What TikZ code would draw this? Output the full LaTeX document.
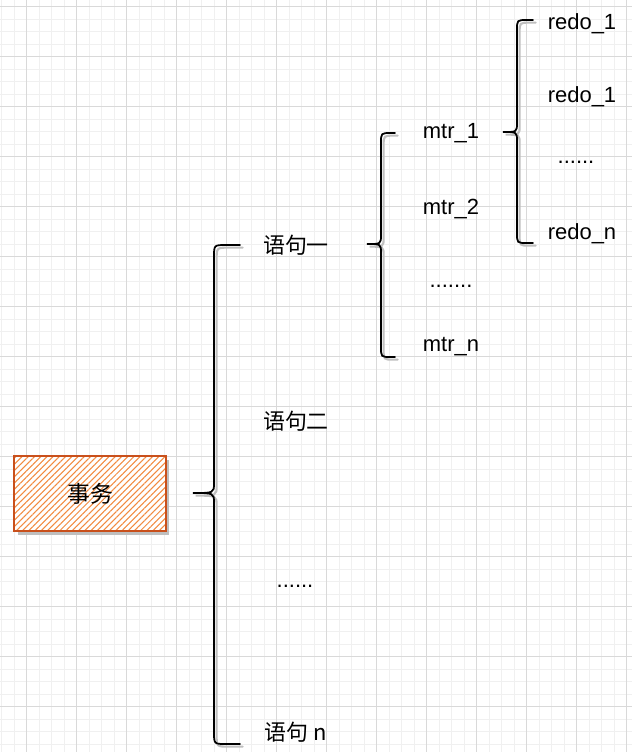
\documentclass[tikz,border=0pt]{standalone}
\usepackage{fontspec}
\setmainfont{Liberation Sans}
\newfontfamily\cjk{Noto Sans CJK SC}
\usepackage{xcolor}
\usetikzlibrary{patterns.meta}

\definecolor{gridminor}{HTML}{F0F0F0}
\definecolor{gridmajor}{HTML}{D9D9D9}
\definecolor{boxline}{HTML}{C9501C}
\definecolor{hatch}{HTML}{F28A3F}

\begin{document}
\begin{tikzpicture}[
    x=0.02cm, y=-0.02cm,
    label/.style={
        inner sep=0pt,
        font=\fontsize{12.5}{14}\selectfont
    },
    cjklabel/.style={
        inner sep=0pt,
        font=\fontsize{12.5}{14}\selectfont\cjk
    },
    brace/.style={
        draw=black,
        line width=1pt,
        line cap=round
    },
    braceshadow/.style={
        draw=black!25,
        line width=1.2pt,
        line cap=round
    }
]

\useasboundingbox (0,0) rectangle (632,752);
\fill[white] (0,0) rectangle (632,752);

% grid
\foreach \x in {1.7,14.2,...,632}
    \draw[gridminor, line width=0.5pt] (\x,0) -- (\x,752);
\foreach \y in {6.7,19.2,...,752}
    \draw[gridminor, line width=0.5pt] (0,\y) -- (632,\y);
\foreach \x in {26.7,76.7,...,632}
    \draw[gridmajor, line width=0.6pt] (\x,0) -- (\x,752);
\foreach \y in {6.7,56.7,...,752}
    \draw[gridmajor, line width=0.6pt] (0,\y) -- (632,\y);

% transaction box
\fill[black!25] (18,460) rectangle (169,535);
\fill[white] (14,456) rectangle (166,531);
\path[pattern={Lines[angle=45,distance=2.5pt,line width=0.6pt]}, pattern color=hatch]
    (14,456) rectangle (166,531);
\draw[boxline, line width=1pt] (14,456) rectangle (166,531);
\node[cjklabel, font=\fontsize{13}{15}\selectfont\cjk] (txn) at (90,494) {事务};

% braces
\draw[braceshadow, xshift=1.5, yshift=-1.5]
    (240,245) -- (226,245) .. controls (214,245) .. (214,257)
    -- (214,483) .. controls (214,493) .. (193,493)
    .. controls (214,493) .. (214,503)
    -- (214,732) .. controls (214,744) .. (226,744) -- (240,744);
\draw[brace]
    (240,245) -- (226,245) .. controls (214,245) .. (214,257)
    -- (214,483) .. controls (214,493) .. (193,493)
    .. controls (214,493) .. (214,503)
    -- (214,732) .. controls (214,744) .. (226,744) -- (240,744);

\draw[braceshadow, xshift=1.5, yshift=-1.5]
    (395,133) -- (391,133) .. controls (381,133) .. (381,143)
    -- (381,235) .. controls (381,244) .. (367,244)
    .. controls (381,244) .. (381,253)
    -- (381,347) .. controls (381,357) .. (391,357) -- (395,357);
\draw[brace]
    (395,133) -- (391,133) .. controls (381,133) .. (381,143)
    -- (381,235) .. controls (381,244) .. (367,244)
    .. controls (381,244) .. (381,253)
    -- (381,347) .. controls (381,357) .. (391,357) -- (395,357);

\draw[braceshadow, xshift=1.5, yshift=-1.5]
    (533,20) -- (527,20) .. controls (517,20) .. (517,30)
    -- (517,123) .. controls (517,132) .. (503,132)
    .. controls (517,132) .. (517,141)
    -- (517,233) .. controls (517,243) .. (527,243) -- (533,243);
\draw[brace]
    (533,20) -- (527,20) .. controls (517,20) .. (517,30)
    -- (517,123) .. controls (517,132) .. (503,132)
    .. controls (517,132) .. (517,141)
    -- (517,233) .. controls (517,243) .. (527,243) -- (533,243);

% statements
\node[cjklabel] (stmt1) at (296,245) {语句一};
\node[cjklabel] (stmt2) at (296,421) {语句二};
\node[label] (stmtdots) at (295,586) {......};
\node[cjklabel] (stmtn) at (296,732) {语句 n};

% mtr entries
\node[label] (mtr1) at (451,133) {mtr\_1};
\node[label] (mtr2) at (451,209) {mtr\_2};
\node[label] (mtrdots) at (451,286) {.......};
\node[label] (mtrn) at (451,347) {mtr\_n};

% redo entries
\node[label] (redo1) at (582,24) {redo\_1};
\node[label] (redo2) at (582,97) {redo\_1};
\node[label] (redodots) at (576,162) {......};
\node[label] (redon) at (582,234) {redo\_n};

\end{tikzpicture}
\end{document}
